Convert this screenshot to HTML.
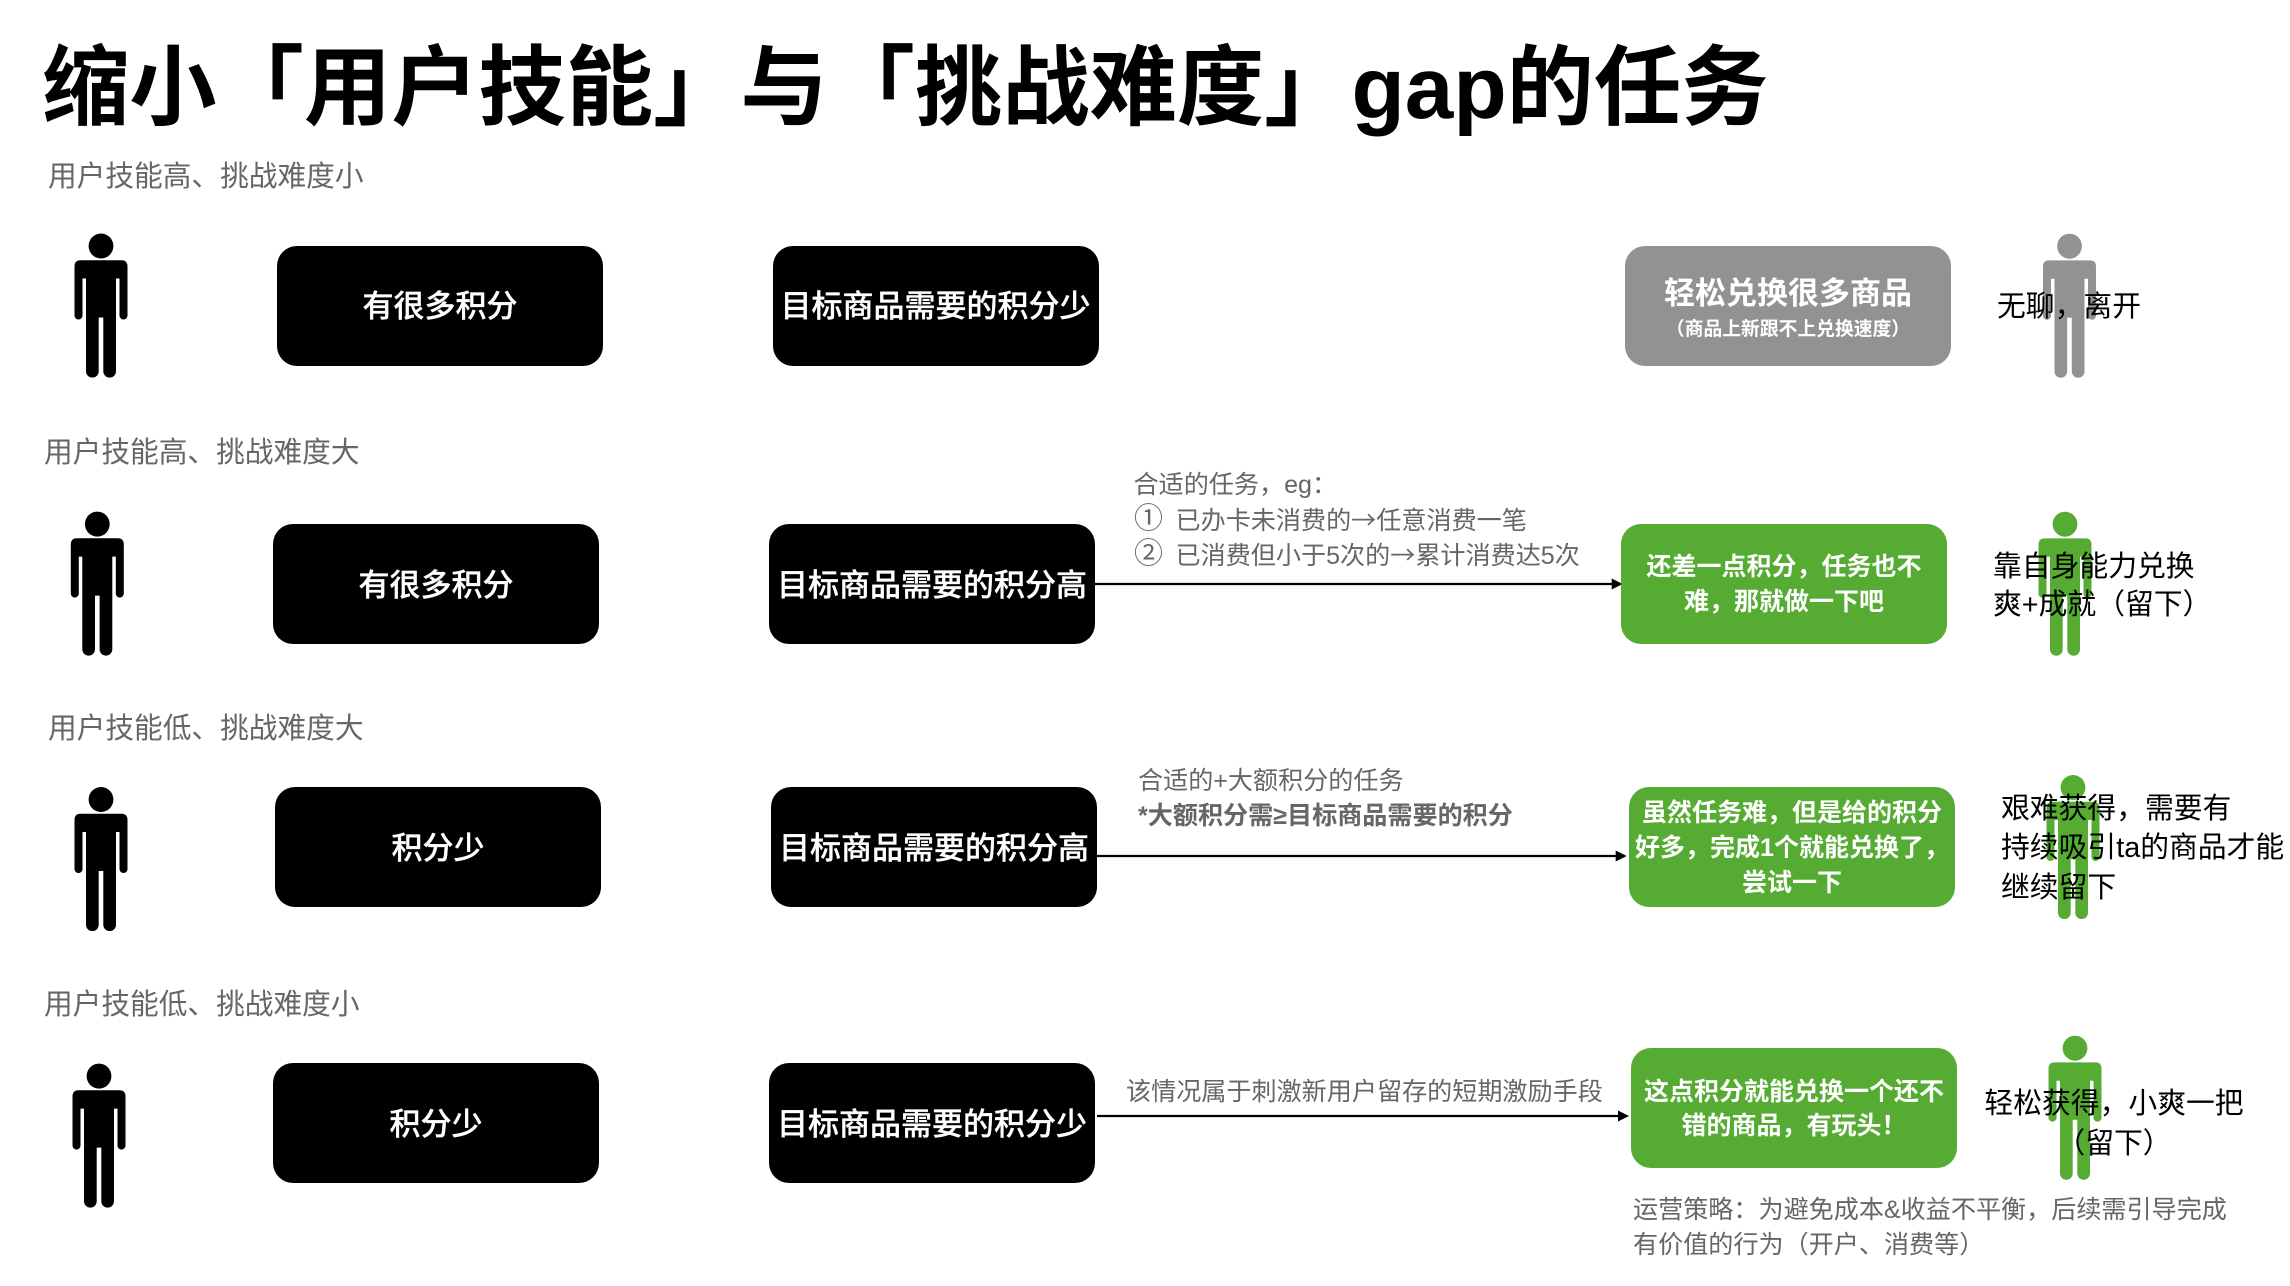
<!DOCTYPE html>
<html lang="zh"><head><meta charset="utf-8">
<style>
html,body{margin:0;padding:0;background:#fff}
#c{position:relative;width:2290px;height:1286px;overflow:hidden;font-family:"Liberation Sans","Noto Sans CJK SC",sans-serif}
.t{position:absolute;white-space:pre;line-height:40px;height:40px;margin-top:-20px}
.c{transform:translateX(-50%)}
.title{font-size:87.3px;font-weight:700;line-height:100px;height:100px;margin-top:-50px;color:#000}
.lab{font-size:28.7px;color:#666}
.n{font-size:25.1px;color:#666}
.a{font-family:"Noto Sans CJK SC",sans-serif}
.r{font-size:28.8px;color:#000}
.g{font-size:25px;font-weight:700;color:#fff}
.w{font-size:31px;font-weight:500;color:#fff;-webkit-text-stroke:.3px #fff}
.b{position:absolute;border-radius:20px;height:120px;width:326px;background:#000}
.gr{background:#56ab33}
svg{position:absolute;left:0;top:0}
</style></head><body><div id="c">
<svg width="2290" height="1286" viewBox="0 0 2290 1286">
<defs><g id="p"><ellipse cx="0" cy="12.5" rx="12.4" ry="12.5"/><path d="M-20.5 26.7H20.5Q26.5 26.7 26.5 33V82A4 4 0 0 1 18.5 82V45H15V137.7A6.35 6.35 0 0 1 2.3 137.7V84H-2.3V137.7A6.35 6.35 0 0 1 -15 137.7V45H-18.5V82A4 4 0 0 1 -26.5 82V33Q-26.5 26.7 -20.5 26.7Z"/></g></defs>
<use href="#p" x="101" y="233.5" fill="#000"/>
<use href="#p" x="97.3" y="511.6" fill="#000"/>
<use href="#p" x="101" y="787" fill="#000"/>
<use href="#p" x="99" y="1063.6" fill="#000"/>
<use href="#p" x="2069.5" y="233.7" fill="#929292"/>
<use href="#p" x="2065" y="511.7" fill="#56ab33"/>
<use href="#p" x="2073" y="775" fill="#56ab33"/>
<use href="#p" x="2075" y="1035.7" fill="#56ab33"/>
<g stroke="#000" stroke-width="2.2">
<line x1="1095" y1="584" x2="1614" y2="584"/>
<line x1="1097" y1="856" x2="1618" y2="856"/>
<line x1="1097" y1="1116" x2="1620" y2="1116"/>
</g>
<path d="M1611.7 578.5L1622.7 584L1611.7 589.5Z"/>
<path d="M1615.7 850.5L1626.7 856L1615.7 861.5Z"/>
<path d="M1618 1110.5L1629 1116L1618 1121.5Z"/>
</svg>

<div class="b" style="left:277px;top:246px"></div>
<div class="b" style="left:773px;top:246px"></div>
<div class="b" style="left:1625px;top:246px;background:#929292"></div>
<div class="b" style="left:273px;top:524px"></div>
<div class="b" style="left:769px;top:524px"></div>
<div class="b gr" style="left:1621px;top:524px"></div>
<div class="b" style="left:275px;top:787px"></div>
<div class="b" style="left:771px;top:787px"></div>
<div class="b gr" style="left:1629px;top:787px"></div>
<div class="b" style="left:273px;top:1063px"></div>
<div class="b" style="left:769px;top:1063px"></div>
<div class="b gr" style="left:1631px;top:1048px"></div>

<div class="t title" style="left:42px;top:87.5px">缩小「用户技能」与「挑战难度」gap的任务</div>
<div class="t lab" style="left:48px;top:176.5px">用户技能高、挑战难度小</div>
<div class="t lab" style="left:44px;top:453px">用户技能高、挑战难度大</div>
<div class="t lab" style="left:48px;top:729px">用户技能低、挑战难度大</div>
<div class="t lab" style="left:44px;top:1004.5px">用户技能低、挑战难度小</div>

<div class="t w c" style="left:440px;top:307px">有很多积分</div>
<div class="t w c" style="left:935.5px;top:307px">目标商品需要的积分少</div>
<div class="t w c" style="left:1788px;top:294px;font-weight:700;-webkit-text-stroke:0">轻松兑换很多商品</div>
<div class="t c" style="left:1788px;top:329px;font-size:18.8px;font-weight:700;color:#fff">（商品上新跟不上兑换速度）</div>
<div class="t r" style="left:1997px;top:306.5px">无聊，离开</div>

<div class="t n" style="left:1133.5px;top:485px">合适的任务，eg：</div>
<div class="t n" style="left:1134px;top:519px;font-size:29px">①</div>
<div class="t n" style="left:1175.5px;top:519px">已办卡未消费的<span class="a">→</span>任意消费一笔</div>
<div class="t n" style="left:1134px;top:554px;font-size:29px">②</div>
<div class="t n" style="left:1175.5px;top:554px">已消费但小于5次的<span class="a">→</span>累计消费达5次</div>
<div class="t w c" style="left:436px;top:586px">有很多积分</div>
<div class="t w c" style="left:932px;top:586px">目标商品需要的积分高</div>
<div class="t g c" style="left:1784px;top:567px">还差一点积分，任务也不</div>
<div class="t g c" style="left:1784px;top:602px">难，那就做一下吧</div>
<div class="t r" style="left:1993px;top:566.5px">靠自身能力兑换</div>
<div class="t r" style="left:1993px;top:604.5px">爽+成就（留下）</div>

<div class="t n" style="left:1138px;top:781px">合适的+大额积分的任务</div>
<div class="t n" style="left:1138px;top:816px;font-weight:700">*大额积分需≥目标商品需要的积分</div>
<div class="t w c" style="left:438px;top:849px">积分少</div>
<div class="t w c" style="left:934px;top:849px">目标商品需要的积分高</div>
<div class="t g c" style="left:1792px;top:813px">虽然任务难，但是给的积分</div>
<div class="t g c" style="left:1792px;top:848px">好多，完成1个就能兑换了，</div>
<div class="t g c" style="left:1792px;top:883px">尝试一下</div>
<div class="t r" style="left:2001px;top:809px">艰难获得，需要有</div>
<div class="t r" style="left:2001px;top:848px">持续吸引ta的商品才能</div>
<div class="t r" style="left:2001px;top:888px">继续留下</div>

<div class="t n" style="left:1126px;top:1091.5px">该情况属于刺激新用户留存的短期激励手段</div>
<div class="t w c" style="left:436px;top:1125px">积分少</div>
<div class="t w c" style="left:932px;top:1125px">目标商品需要的积分少</div>
<div class="t g c" style="left:1794px;top:1091.5px">这点积分就能兑换一个还不</div>
<div class="t g c" style="left:1794px;top:1126px">错的商品，有玩头！</div>
<div class="t r c" style="left:2114px;top:1104px">轻松获得，小爽一把</div>
<div class="t r c" style="left:2114px;top:1144px">（留下）</div>
<div class="t n" style="left:1633px;top:1209.5px">运营策略：为避免成本&amp;收益不平衡，后续需引导完成</div>
<div class="t n" style="left:1633px;top:1244.5px">有价值的行为（开户、消费等）</div>
</div></body></html>
